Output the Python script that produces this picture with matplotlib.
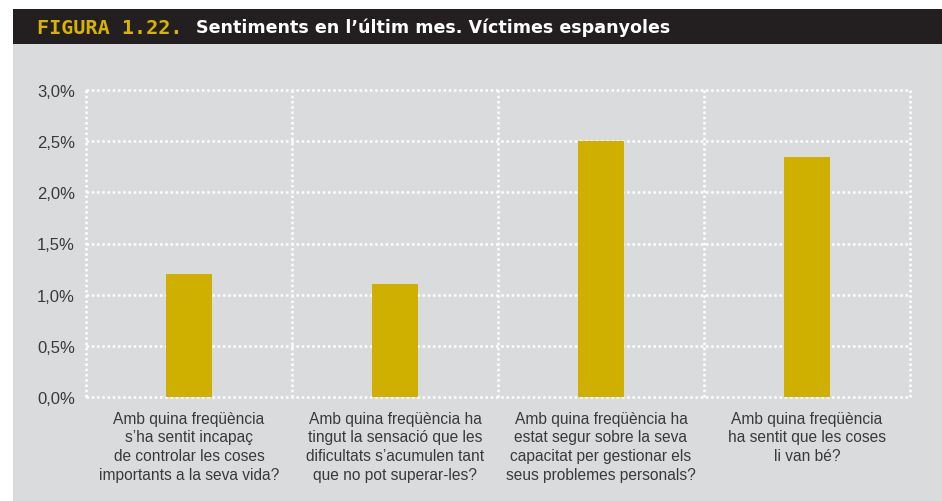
import numpy as np
import matplotlib
matplotlib.use("Agg")
import matplotlib.pyplot as plt
from matplotlib.patches import Rectangle

categories = [
    "Amb quina freqüència\ns\u2019ha sentit incapaç\nde controlar les coses\nimportants a la seva vida?",
    "Amb quina freqüència ha\ntingut la sensació que les\ndificultats s\u2019acumulen tant\nque no pot superar-les?",
    "Amb quina freqüència ha\nestat segur sobre la seva\ncapacitat per gestionar els\nseus problemes personals?",
    "Amb quina freqüència\nha sentit que les coses\nli van bé?",
]
values = [1.2, 1.1, 2.5, 2.35]
yticks = [0.0, 0.5, 1.0, 1.5, 2.0, 2.5, 3.0]
ytick_labels = ["0,0%", "0,5%", "1,0%", "1,5%", "2,0%", "2,5%", "3,0%"]

bg = "#dadbdd"
bar_col = "#cfb000"
dark = "#231f20"

W, H = 942, 502
fig = plt.figure(figsize=(W / 100, H / 100), dpi=100)
fig.patch.set_facecolor("white")

# background: grey panel and dark header
bg_ax = fig.add_axes([0, 0, 1, 1], zorder=0)
bg_ax.set_axis_off()
bg_ax.set_xlim(0, W)
bg_ax.set_ylim(H, 0)
bg_ax.add_patch(Rectangle((13, 45), W - 13, H - 45, facecolor=bg, edgecolor="none"))
bg_ax.add_patch(Rectangle((13, 10), W - 13, 35, facecolor=dark, edgecolor="none"))
bg_ax.text(37, 28, "FIGURA 1.22.", color="#d8b400", fontsize=14.5, fontweight="bold",
           family="DejaVu Sans Mono", va="center", ha="left")
bg_ax.text(196, 28, "Sentiments en l\u2019últim mes. Víctimes espanyoles", color="white",
           fontsize=12.6, fontweight="bold", family="DejaVu Sans", va="center", ha="left")

ax = fig.add_axes([86 / W, 1 - 398 / H, (910 - 86) / W, (398 - 91) / H], zorder=2)
ax.set_facecolor("none")
x = np.arange(len(categories))
ax.bar(x, values, width=0.228, color=bar_col, zorder=3)
ax.set_xlim(-0.5, len(categories) - 0.5)
ax.set_ylim(0, 3.0)

for yv in yticks:
    ax.axhline(yv, color="white", linestyle=(0, (1, 1.1)), linewidth=1.8, zorder=1, clip_on=False)
for xv in np.arange(-0.5, len(categories), 1.0):
    ax.axvline(xv, color="white", linestyle=(0, (1, 1.1)), linewidth=1.8, zorder=1, clip_on=False)

for s in ax.spines.values():
    s.set_visible(False)
ax.set_yticks(yticks)
ax.set_yticklabels(ytick_labels, fontsize=12, color="#3a3a3a", family="Liberation Sans")
ax.set_xticks(x)
ax.set_xticklabels(categories, fontsize=11.2, color="#3a3a3a", family="Liberation Sans",
                   linespacing=1.3)
ax.tick_params(axis="y", length=0, pad=8)
ax.tick_params(axis="x", length=0, pad=10)

fig.savefig("out.png", dpi=100, facecolor=fig.get_facecolor())
